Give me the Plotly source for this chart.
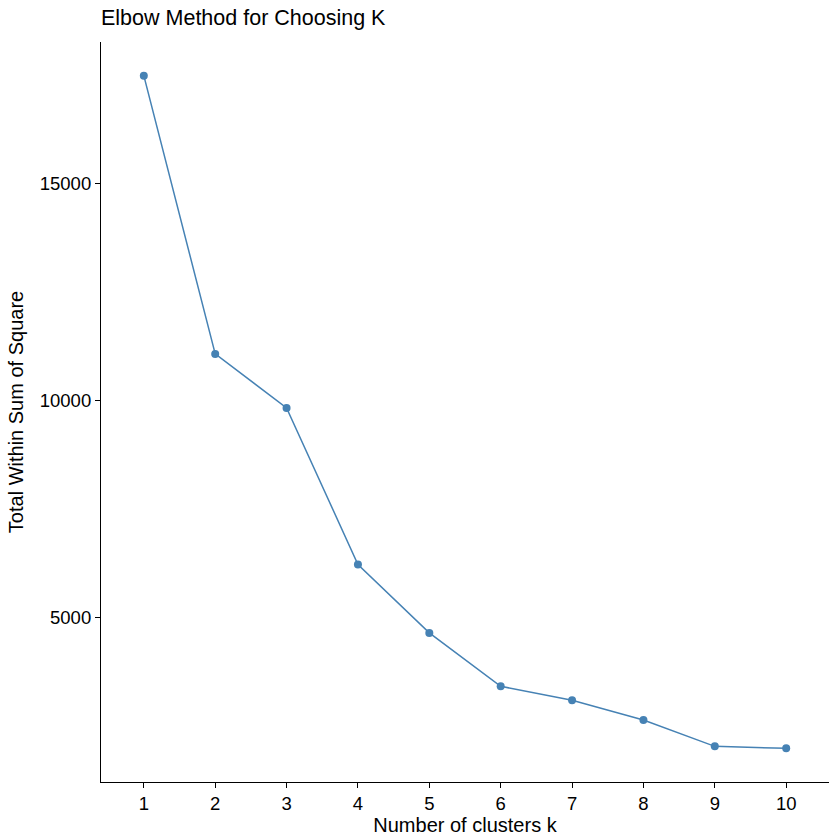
import plotly.graph_objects as go

# elbow curve values
k_values = [1, 2, 3, 4, 5, 6, 7, 8, 9, 10]
wss = [17493, 11078, 9832, 6223, 4645, 3414, 3091, 2637, 2030, 1983]
y_ticks = [5000, 10000, 15000]

steelblue = "#4682B4"
font_name = "Liberation Sans, Arial, sans-serif"

fig = go.Figure(
    data=[
        go.Scatter(
            x=k_values,
            y=wss,
            mode="lines+markers",
            line=dict(color=steelblue, width=1.5),
            marker=dict(color=steelblue, size=8),
            showlegend=False,
        )
    ]
)

axis_style = dict(
    showgrid=False,
    zeroline=False,
    showline=True,
    linecolor="black",
    linewidth=1.2,
    ticks="outside",
    ticklen=5,
    tickwidth=1.1,
    tickcolor="black",
    tickfont=dict(size=18.5, color="black"),
    automargin=False,
)

span = max(wss) - min(wss)
fig.update_layout(
    width=840,
    height=840,
    margin=dict(l=101, r=11, t=42, b=58),
    plot_bgcolor="white",
    paper_bgcolor="white",
    font=dict(family=font_name, size=20, color="black"),
    title=dict(
        text="Elbow Method for Choosing K",
        x=101 / 840,
        xanchor="left",
        y=1 - 17 / 840,
        yanchor="middle",
        font=dict(size=21.5, color="black"),
    ),
    xaxis=dict(
        range=[0.4, 10.6],
        tickvals=k_values,
        ticktext=[str(k) for k in k_values],
        title=dict(text="Number of clusters k", font=dict(size=20), standoff=0),
        **axis_style,
    ),
    yaxis=dict(
        range=[min(wss) - 0.05 * span, max(wss) + 0.05 * span],
        tickvals=y_ticks,
        ticktext=[str(v) for v in y_ticks],
        title=dict(text="Total Within Sum of Square", font=dict(size=20), standoff=10),
        **axis_style,
    ),
)

# drop the browser's default body margin so the figure sits at the page corner
fig.write_html(
    "out.html",
    config={"displayModeBar": False},
    post_script="document.body.style.margin='0';",
)
